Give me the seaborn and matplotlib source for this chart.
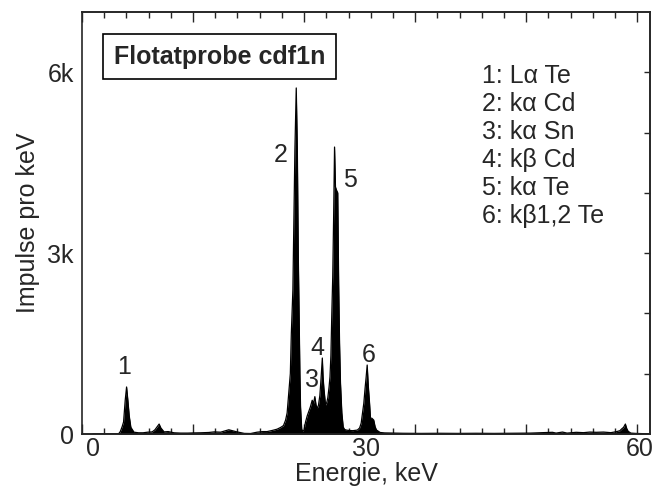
import numpy as np
import pandas as pd
import matplotlib
matplotlib.use("Agg")
import matplotlib.pyplot as plt
import seaborn as sns

# ---- data ----
energy_kev = [0.0, 2.8, 3.0, 3.2, 3.36, 3.54, 3.69, 3.83, 3.98, 4.16, 4.5, 5.0, 5.5, 6.0,
              6.5, 6.8, 7.0, 7.26, 7.45, 7.8, 8.25, 8.9, 9.6, 10.4, 11.0, 11.8, 12.7, 13.3,
              14.0, 14.9, 15.3, 15.8, 16.6, 17.3, 18.0, 18.6, 19.1, 19.7, 20.2, 20.6, 20.9,
              21.13, 21.3, 21.5, 21.65, 21.76, 21.93, 22.04, 22.15, 22.3, 22.42, 22.52, 22.63,
              22.7, 22.77, 22.9, 23.0, 23.14, 23.32, 23.5, 23.68, 23.85, 24.05, 24.19, 24.34,
              24.47, 24.6, 24.74, 24.89, 25.02, 25.16, 25.24, 25.33, 25.51, 25.64, 25.76, 25.9,
              26.0, 26.1, 26.2, 26.3, 26.4, 26.5, 26.6, 26.7, 26.85, 26.95, 27.05, 27.15, 27.3,
              27.45, 27.6, 27.8, 28.0, 28.5, 29.0, 29.25, 29.42, 29.55, 29.71, 29.85, 29.97,
              30.08, 30.2, 30.34, 30.44, 30.6, 30.8, 30.95, 31.1, 31.5, 32.0, 34.0, 36.0, 38.0,
              40.0, 42.0, 44.0, 46.0, 48.0, 50.4, 50.8, 51.5, 52.0, 53.0, 53.8, 54.5, 55.2, 56.0,
              56.8, 57.4, 57.8, 58.0, 58.2, 58.4, 58.55, 58.7, 59.0, 59.5, 60.5, 61.0]
counts = [0, 0, 40, 120, 200, 560, 780, 560, 300, 110, 30, 20, 20, 30,
          35, 70, 110, 165, 100, 35, 40, 20, 15, 15, 18, 20, 25, 35,
          30, 70, 55, 35, 10, 8, 30, 40, 40, 60, 80, 110, 140,
          230, 350, 730, 1000, 1670, 2390, 3600, 4700, 5740, 4700, 3000, 1800,
          1000, 450, 80, 50, 60, 200, 300, 380, 450, 560, 500, 620,
          480, 420, 480, 640, 920, 1260, 950, 760, 480, 520, 600, 780,
          950, 1300, 2000, 2600, 3600, 4760, 4100, 4050, 4000, 2500, 1500, 850, 350,
          116, 75, 65, 60, 55, 65, 100, 180, 330, 510, 760, 950,
          1144, 800, 510, 265, 260, 230, 120, 66, 25, 18, 12, 10, 12,
          10, 12, 10, 12, 15, 28, 15, 32, 15, 28, 22, 32, 28, 32,
          22, 38, 55, 85, 110, 165, 90, 45, 15, 10, 5, 5]

peak_labels = ["1", "2", "3", "4", "5", "6"]
legend_lines = ["1: L\u03b1 Te", "2: k\u03b1 Cd", "3: k\u03b1 Sn",
                "4: k\u03b2 Cd", "5: k\u03b1 Te", "6: k\u03b21,2 Te"]
sample_name = "Flotatprobe cdf1n"
x_tick_values = [0, 30, 60]
x_tick_labels = ["0", "30", "60"]
y_tick_values = [0, 3000, 6000]
y_tick_labels = ["0", "3k", "6k"]

df = pd.DataFrame({"energy": energy_kev, "counts": counts})

sns.set_style("white")
plt.rcParams["font.family"] = ["Liberation Sans", "DejaVu Sans"]
plt.rcParams["axes.linewidth"] = 1.2

fig = plt.figure(figsize=(6.56, 4.97), dpi=100)
ax = fig.add_axes([82 / 656, 1 - 434 / 497, (650 - 82) / 656, (434 - 12) / 497])

sns.lineplot(data=df, x="energy", y="counts", color="black", lw=0.9, ax=ax, sort=True)
ax.fill_between(df["energy"], df["counts"], color="black", lw=0)

xmin, xmax = -1.2, 61.1
ax.set_xlim(xmin, xmax)
ax.set_ylim(0, 7000)

fs = 18
# labelled ticks
ax.set_xticks(x_tick_values, x_tick_labels, fontsize=fs)
ax.tick_params(axis="x", length=0, pad=2)
ax.set_yticks(y_tick_values, y_tick_labels, fontsize=fs)
ax.set_yticks([1000, 2000, 4000, 5000], minor=True)
ax.tick_params(axis="y", which="major", direction="out", length=5, width=1.1, pad=1)
ax.tick_params(axis="y", which="minor", direction="in", length=4, width=1.0)

# unlabelled inward ticks on bottom & top
step = 12.18 / 5
long_ticks = [xmin + 5 * step * k for k in range(6)]
short_ticks = [xmin + step * k for k in range(26) if k % 5 != 0]
for loc in ("bottom", "top"):
    sec = ax.secondary_xaxis(loc)
    sec.set_xticks(long_ticks, [""] * len(long_ticks))
    sec.set_xticks(short_ticks, minor=True)
    sec.tick_params(which="major", direction="in", length=7, width=1.0)
    sec.tick_params(which="minor", direction="in", length=4, width=1.0)
    sec.spines[loc].set_linewidth(1.2)
secr = ax.secondary_yaxis("right")
secr.set_yticks([1000, 2000, 3000, 4000, 5000, 6000], [""] * 6)
secr.tick_params(direction="in", length=4, width=1.0)

ax.set_xlabel("Energie, keV", fontsize=fs, labelpad=1)
ax.set_ylabel("Impulse pro keV", fontsize=fs, labelpad=5)

# peak labels
peak_pos = [(3.39, 1110), (20.6, 4630), (23.98, 895), (24.64, 1425), (28.14, 4210), (30.22, 1310)]
for lab, (px, py) in zip(peak_labels, peak_pos):
    ax.text(px, py, lab, fontsize=fs, ha="center", va="center")

# sample name box
ax.text(0.242, 0.894, sample_name, transform=ax.transAxes, fontsize=fs, fontweight="bold",
        ha="center", va="center",
        bbox=dict(boxstyle="square,pad=0.42", fc="white", ec="black", lw=1.2))

# line legend
for i, line in enumerate(legend_lines):
    ax.text(0.705, 0.848 - i * 0.0665, line, transform=ax.transAxes, fontsize=fs,
            ha="left", va="center")

fig.savefig("out.png", dpi=100)
